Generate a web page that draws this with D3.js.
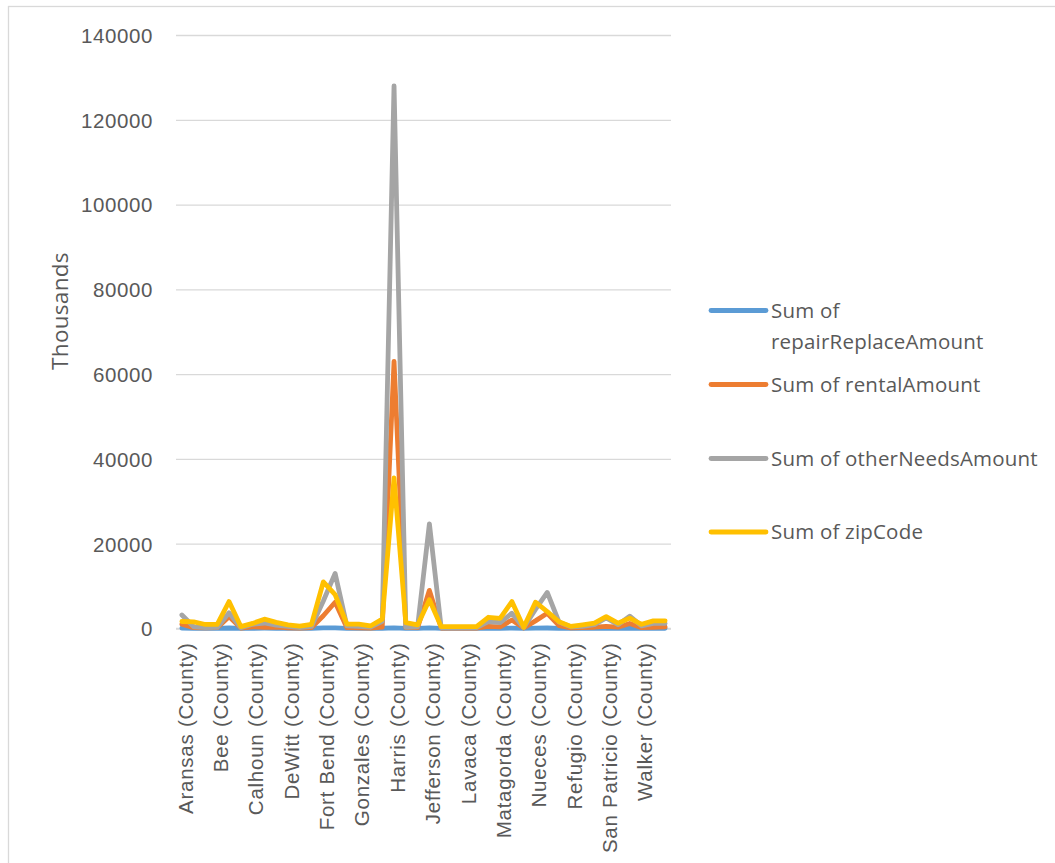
<!DOCTYPE html>
<html>
<head>
<meta charset="utf-8">
<script src="https://cdn.jsdelivr.net/npm/d3@7"></script>
<style>
  html, body { margin: 0; padding: 0; background: #ffffff; }
  svg { display: block; font-family: "Open Sans", "Liberation Sans", sans-serif; }
</style>
</head>
<body>
<svg id="chart" width="1055" height="863"></svg>
<script>
// Counties, in alphabetical order
const counties = [
  "Aransas", "Austin", "Bastrop", "Bee", "Brazoria", "Caldwell", "Calhoun",
  "Chambers", "Colorado", "DeWitt", "Falls", "Fayette", "Fort Bend", "Galveston",
  "Goliad", "Gonzales", "Grimes", "Hardin", "Harris", "Jackson", "Jasper",
  "Jefferson", "Karnes", "Kleberg", "Lavaca", "Lee", "Liberty", "Matagorda",
  "Montgomery", "Newton", "Nueces", "Orange", "Polk", "Refugio", "Sabine",
  "San Jacinto", "San Patricio", "Tyler", "Victoria", "Walker", "Waller", "Wharton"
].map(n => n + " (County)");

// Sums per county, in thousands
const repairReplaceAmount = [
  90, 40, 30, 40, 120, 20, 50, 70, 40, 30, 20, 30, 130, 140,
  30, 30, 20, 60, 150, 40, 40, 130, 20, 20, 20, 20, 60, 60,
  100, 20, 100, 120, 50, 30, 30, 40, 80, 40, 70, 30, 50, 50
];
const rentalAmount = [
  1000, 200, 150, 200, 2800, 100, 400, 300, 300, 150, 100, 200, 3000, 6200,
  200, 150, 100, 300, 63000, 200, 200, 9000, 100, 100, 100, 100, 500, 400,
  2000, 100, 1800, 3600, 700, 150, 200, 300, 500, 300, 1200, 200, 300, 400
];
const otherNeedsAmount = [
  3200, 400, 200, 250, 3700, 200, 1000, 1300, 800, 500, 200, 500, 6500, 13000,
  600, 500, 300, 1700, 128000, 300, 400, 24700, 200, 150, 200, 200, 1600, 1400,
  3600, 200, 4500, 8500, 1500, 400, 500, 900, 2500, 900, 2900, 600, 1200, 1200
];
const zipCode = [
  1650, 1550, 950, 950, 6350, 450, 1200, 2200, 1450, 850, 550, 1000, 11000, 8000,
  1050, 1050, 600, 2200, 35500, 1400, 850, 6800, 450, 450, 450, 450, 2650, 2400,
  6350, 300, 6200, 4000, 1600, 500, 850, 1250, 2800, 1250, 2450, 1000, 1800, 1800
];

const seriesNames = [
  ["Sum of", "repairReplaceAmount"],
  ["Sum of rentalAmount"],
  ["Sum of otherNeedsAmount"],
  ["Sum of zipCode"]
];
const seriesColors = ["#5b9bd5", "#ed7d31", "#a5a5a5", "#ffc000"];
const seriesValues = [repairReplaceAmount, rentalAmount, otherNeedsAmount, zipCode];
const yTicks = [0, 20000, 40000, 60000, 80000, 100000, 120000, 140000];

const svg = d3.select("#chart");
const textColor = "#595959";
const gridColor = "#d9d9d9";

// Chart area frame
svg.append("rect")
  .attr("x", 8.5).attr("y", 6.5)
  .attr("width", 1200).attr("height", 1000)
  .attr("fill", "none").attr("stroke", gridColor).attr("stroke-width", 1.3);

const plot = { left: 176, right: 671, top: 35, bottom: 628.5 };

const x = d3.scalePoint()
  .domain(counties)
  .range([plot.left, plot.right])
  .padding(0.5);

const y = d3.scaleLinear()
  .domain([0, 140000])
  .range([plot.bottom, plot.top]);

// Horizontal gridlines and value labels
const yAxis = d3.axisLeft(y)
  .tickValues(yTicks)
  .tickSize(-(plot.right - plot.left))
  .tickPadding(23)
  .tickFormat(d3.format("d"));

const gy = svg.append("g")
  .attr("transform", `translate(${plot.left},0)`)
  .call(yAxis);
gy.select(".domain").remove();
gy.selectAll(".tick line")
  .attr("stroke", gridColor).attr("stroke-width", 1.3);
gy.selectAll(".tick text")
  .attr("fill", textColor)
  .style("font-size", "20.5px")
  .style("letter-spacing", "0.6px")
  .attr("dy", "0.36em");

// Category axis, labelling every third county
const xAxis = d3.axisBottom(x)
  .tickValues(counties.filter((d, i) => i % 3 === 0))
  .tickSize(0)
  .tickPadding(0);

const gx = svg.append("g")
  .attr("transform", `translate(0,${plot.bottom})`)
  .call(xAxis);
gx.select(".domain")
  .attr("d", `M${plot.left},0H${plot.right}`)
  .attr("stroke", gridColor).attr("stroke-width", 1.3);
gx.selectAll(".tick text")
  .attr("fill", textColor)
  .style("font-size", "20.5px")
  .style("letter-spacing", "0.75px")
  .attr("text-anchor", "end")
  .attr("transform", "rotate(-90)")
  .attr("x", -14)
  .attr("y", 0)
  .attr("dy", "0.5em");

// Axis title
svg.append("text")
  .attr("transform", "translate(60,311) rotate(-90)")
  .attr("text-anchor", "middle")
  .attr("dy", "0.36em")
  .attr("fill", textColor)
  .style("font-size", "22.5px")
  .style("letter-spacing", "0.3px")
  .text("Thousands");

// Series lines, drawn in order so the last series sits on top
const line = d3.line()
  .x((d, i) => x(counties[i]))
  .y(d => y(d));

svg.append("g")
  .selectAll("path")
  .data(seriesValues)
  .join("path")
  .attr("d", d => line(d))
  .attr("fill", "none")
  .attr("stroke", (d, i) => seriesColors[i])
  .attr("stroke-width", 4.8)
  .attr("stroke-linejoin", "round")
  .attr("stroke-linecap", "round");

// Legend
const legendRows = [310.5, 384.5, 458.5, 532];
const legend = svg.append("g");
seriesNames.forEach((lines, i) => {
  const row = legend.append("g").attr("transform", `translate(0,${legendRows[i]})`);
  row.append("line")
    .attr("x1", 711).attr("x2", 766)
    .attr("y1", 0).attr("y2", 0)
    .attr("stroke", seriesColors[i])
    .attr("stroke-width", 4.8)
    .attr("stroke-linecap", "round");
  const t = row.append("text")
    .attr("x", 771)
    .attr("fill", textColor)
    .style("font-size", "20.5px")
    .style("letter-spacing", "0.2px");
  lines.forEach((s, j) => {
    t.append("tspan")
      .attr("x", 771)
      .attr("y", j * 31)
      .attr("dy", "0.36em")
      .text(s);
  });
});
</script>
</body>
</html>
